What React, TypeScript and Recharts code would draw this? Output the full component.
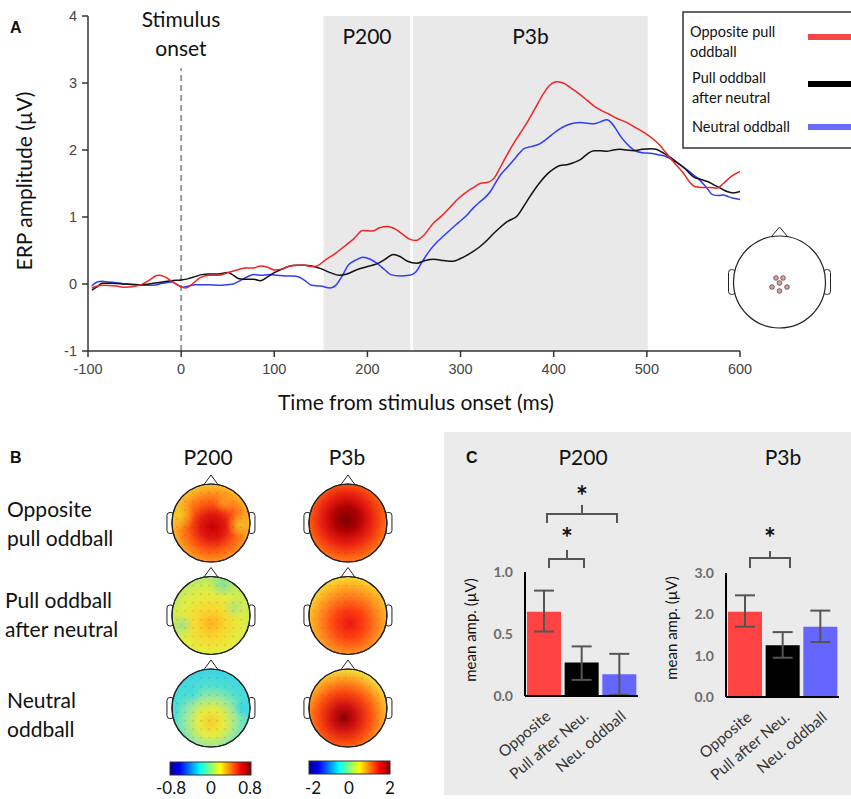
import React from "react";
import {
  LineChart,
  Line,
  XAxis,
  YAxis,
  ReferenceArea,
  ReferenceLine,
  BarChart,
  Bar,
  Cell,
  ErrorBar,
  ScatterChart,
  Scatter,
} from "recharts";

// ---- panel A: grand-average ERP (time ms, amplitude µV) ----
const oppositePull: [number, number][] = [
  [-96, -0.06], [-85, -0.02], [-70, -0.03], [-60, -0.05], [-45, -0.02], [-35, 0.05], [-25, 0.13],
  [-18, 0.11], [-10, 0.04], [-3, -0.02], [5, -0.06], [12, 0.0], [20, 0.09], [30, 0.13], [40, 0.13],
  [50, 0.17], [60, 0.21], [70, 0.24], [78, 0.24], [85, 0.27], [93, 0.25], [100, 0.21], [108, 0.22],
  [115, 0.26], [125, 0.28], [133, 0.28], [140, 0.26], [146, 0.27], [155, 0.36], [165, 0.45],
  [175, 0.56], [185, 0.67], [195, 0.8], [205, 0.79], [213, 0.84], [222, 0.86], [230, 0.82],
  [238, 0.74], [245, 0.67], [252, 0.65], [260, 0.72], [271, 0.91], [280, 1.02], [289, 1.15],
  [298, 1.28], [307, 1.38], [315, 1.45], [321, 1.5], [330, 1.52], [336, 1.58], [343, 1.75],
  [350, 1.93], [357, 2.1], [364, 2.25], [371, 2.4], [380, 2.62], [388, 2.82], [396, 2.97],
  [403, 3.02], [410, 3.0], [421, 2.9], [428, 2.83], [436, 2.74], [443, 2.66], [450, 2.6],
  [460, 2.53], [468, 2.47], [477, 2.42], [486, 2.35], [496, 2.27], [507, 2.16], [514, 2.07],
  [521, 1.95], [530, 1.8], [539, 1.66], [546, 1.52], [552, 1.45], [560, 1.44], [568, 1.44],
  [575, 1.43], [582, 1.5], [590, 1.6], [600, 1.68],
];
const pullAfterNeutral: [number, number][] = [
  [-96, -0.09], [-90, -0.04], [-85, 0.01], [-75, 0.01], [-60, 0.0], [-45, -0.01], [-30, 0.01],
  [-20, 0.03], [-10, 0.05], [0, 0.06], [8, 0.08], [15, 0.11], [22, 0.14], [30, 0.15], [40, 0.15],
  [50, 0.17], [55, 0.14], [62, 0.08], [70, 0.07], [78, 0.07], [85, 0.05], [92, 0.1], [100, 0.17],
  [108, 0.22], [115, 0.26], [125, 0.28], [133, 0.28], [140, 0.27], [150, 0.23], [160, 0.17],
  [170, 0.13], [178, 0.15], [188, 0.21], [200, 0.26], [210, 0.3], [218, 0.36], [228, 0.44],
  [235, 0.41], [243, 0.34], [253, 0.31], [262, 0.35], [271, 0.37], [282, 0.35], [292, 0.34],
  [300, 0.38], [307, 0.43], [314, 0.49], [321, 0.56], [329, 0.66], [336, 0.76], [343, 0.85],
  [350, 0.93], [361, 1.02], [371, 1.23], [379, 1.4], [386, 1.53], [393, 1.64], [400, 1.72],
  [407, 1.77], [414, 1.78], [421, 1.81], [429, 1.86], [436, 1.94], [443, 1.99], [450, 1.99],
  [457, 1.98], [464, 2.0], [471, 2.01], [478, 2.0], [486, 1.99], [495, 2.01], [504, 2.02],
  [510, 2.01], [516, 1.97], [524, 1.9], [532, 1.82], [541, 1.72], [550, 1.6], [558, 1.56],
  [565, 1.53], [572, 1.48], [579, 1.43], [586, 1.38], [593, 1.36], [600, 1.38],
];
const neutralOddball: [number, number][] = [
  [-96, -0.03], [-90, 0.03], [-85, 0.04], [-78, 0.03], [-70, 0.02], [-60, 0.0], [-50, -0.01],
  [-40, -0.02], [-30, -0.02], [-20, 0.01], [-10, 0.03], [-3, -0.02], [2, -0.05], [8, -0.03],
  [15, -0.01], [30, -0.01], [40, -0.02], [50, -0.01], [56, 0.0], [62, 0.04], [70, 0.1], [78, 0.14],
  [86, 0.13], [95, 0.14], [103, 0.13], [112, 0.12], [120, 0.12], [127, 0.1], [134, 0.04],
  [140, -0.02], [150, -0.03], [160, -0.06], [166, -0.02], [172, 0.1], [180, 0.29], [188, 0.36],
  [195, 0.4], [203, 0.37], [210, 0.31], [218, 0.22], [225, 0.14], [235, 0.12], [245, 0.13],
  [252, 0.18], [260, 0.36], [268, 0.52], [275, 0.63], [282, 0.72], [289, 0.81], [298, 0.92],
  [307, 1.03], [314, 1.14], [321, 1.23], [327, 1.3], [332, 1.38], [338, 1.52], [343, 1.63],
  [350, 1.74], [357, 1.85], [363, 1.95], [368, 2.02], [376, 2.05], [386, 2.1], [393, 2.17],
  [400, 2.25], [407, 2.32], [414, 2.37], [421, 2.4], [429, 2.41], [436, 2.4], [443, 2.39],
  [450, 2.42], [457, 2.45], [461, 2.42], [466, 2.33], [472, 2.2], [478, 2.1], [486, 2.0],
  [495, 1.96], [504, 1.95], [512, 1.93], [521, 1.9], [530, 1.83], [539, 1.75], [548, 1.65],
  [557, 1.55], [564, 1.44], [571, 1.33], [577, 1.32], [582, 1.33], [588, 1.3], [593, 1.28],
  [600, 1.26],
];
const timeTicks = [-100, 0, 100, 200, 300, 400, 500, 600];
const ampTicks = [-1, 0, 1, 2, 3, 4];
const windowNames = ["P200", "P3b"];
const windowStart = [153, 249];
const windowEnd = [246, 501];

// ---- panel B: topographies ----
const topoColumns = ["P200", "P3b"];
const topoRows = [
  ["Opposite", "pull oddball"],
  ["Pull oddball", "after neutral"],
  ["Neutral", "oddball"],
];
const p200Scale = ["-0.8", "0", "0.8"];
const p3bScale = ["-2", "0", "2"];

// ---- panel C: mean amplitudes ----
const conditions = ["Opposite", "Pull after Neu.", "Neu. oddball"];
const p200Mean = [0.68, 0.27, 0.175];
const p200Low = [0.52, 0.13, 0.01];
const p200High = [0.85, 0.4, 0.34];
const p200Ticks = [0, 0.5, 1];
const p3bMean = [2.06, 1.25, 1.7];
const p3bLow = [1.7, 0.95, 1.33];
const p3bHigh = [2.46, 1.57, 2.09];
const p3bTicks = [0, 1, 2, 3];

const RED = "#f02424";
const BLACK = "#111111";
const BLUE = "#2f3cff";
const barColors = ["#ff4242", "#000000", "#6565ff"];
const FONT = "Lato, 'Open Sans', sans-serif";
const TICK_FONT = "'Liberation Sans', Arial, sans-serif";

const toPoints = (arr: [number, number][]) => arr.map(([t, v]) => ({ t, v }));

const barRows = (mean: number[], low: number[], high: number[]) =>
  conditions.map((c, i) => ({
    name: c,
    value: mean[i],
    err: [mean[i] - low[i], high[i] - mean[i]],
  }));

// colour ramps for the topography heads (jet-like), plus a few local patches
type Ramp = {
  cx: string;
  cy: string;
  r: string;
  stops: [number, string][];
  patches: [number, number, number, string][];
};
const topoRamps: Record<string, Ramp> = {
  "0-0": {
    cx: "52%", cy: "55%", r: "62%",
    stops: [[0, "#c40000"], [0.25, "#e01810"], [0.5, "#ff5a10"], [0.75, "#ffa020"], [1, "#f0e040"]],
    patches: [[-0.8, -0.2, 0.4, "#f2d82a"], [0.75, 0.05, 0.35, "#f2d82a"], [0.35, -0.55, 0.3, "#ffa824"]],
  },
  "0-1": {
    cx: "50%", cy: "60%", r: "62%",
    stops: [[0, "#ffb020"], [0.3, "#f8d830"], [0.6, "#e6ec40"], [0.85, "#c8ec58"], [1, "#a8e480"]],
    patches: [[0.3, -0.8, 0.35, "#70dcb0"], [-0.75, 0.25, 0.3, "#90dc9c"], [0.6, -0.2, 0.28, "#a0e090"]],
  },
  "0-2": {
    cx: "50%", cy: "68%", r: "65%",
    stops: [[0, "#f8cc30"], [0.25, "#e8ec40"], [0.5, "#98e8a0"], [0.72, "#50e0d0"], [1, "#40d4e4"]],
    patches: [[0.8, 0.0, 0.25, "#30d0f0"], [-0.5, -0.4, 0.3, "#40d8e0"]],
  },
  "1-0": {
    cx: "48%", cy: "45%", r: "62%",
    stops: [[0, "#7a0000"], [0.25, "#b00000"], [0.5, "#e81c10"], [0.78, "#ff6010"], [1, "#ff9a20"]],
    patches: [],
  },
  "1-1": {
    cx: "52%", cy: "60%", r: "62%",
    stops: [[0, "#e81810"], [0.3, "#ff4010"], [0.62, "#ff8c20"], [0.85, "#ffc028"], [1, "#f0e040"]],
    patches: [],
  },
  "1-2": {
    cx: "45%", cy: "62%", r: "62%",
    stops: [[0, "#8c0000"], [0.25, "#d01010"], [0.55, "#ff5010"], [0.8, "#ffa020"], [1, "#f0e040"]],
    patches: [],
  },
};

const topoPoints = topoColumns.flatMap((_, col) =>
  topoRows.map((__, row) => ({ col, row, key: `${col}-${row}` }))
);

const HeadOutline = ({ cx, cy, r, fill }: { cx: number; cy: number; r: number; fill: string }) => (
  <g>
    <path
      d={`M${cx - r * 0.19},${cy - r * 0.97} L${cx},${cy - r - 9} L${cx + r * 0.19},${cy - r * 0.97}`}
      fill="#fff"
      stroke="#222"
      strokeWidth={1}
    />
    <rect x={cx - r - 5} y={cy - r * 0.27} width={7} height={r * 0.54} rx={3} fill="#fff" stroke="#222" strokeWidth={1} />
    <rect x={cx + r - 2} y={cy - r * 0.27} width={7} height={r * 0.54} rx={3} fill="#fff" stroke="#222" strokeWidth={1} />
    <circle cx={cx} cy={cy} r={r} fill={fill} stroke="#222" strokeWidth={1.2} />
  </g>
);

const TopoShape = (props: any) => {
  const { cx, cy, payload } = props;
  const ramp = topoRamps[payload.key];
  const id = `topo-grad-${payload.key}`;
  const r = 39;
  return (
    <g>
      <defs>
        <radialGradient id={id} cx={ramp.cx} cy={ramp.cy} r={ramp.r}>
          {ramp.stops.map(([o, c], i) => (
            <stop key={i} offset={o} stopColor={c} />
          ))}
        </radialGradient>
        {ramp.patches.map(([, , , c], i) => (
          <radialGradient key={i} id={`${id}-p${i}`}>
            <stop offset={0} stopColor={c} stopOpacity={0.75} />
            <stop offset={1} stopColor={c} stopOpacity={0} />
          </radialGradient>
        ))}
        <clipPath id={`clip-${payload.key}`}>
          <circle cx={cx} cy={cy} r={r - 0.5} />
        </clipPath>
        <pattern id={`elec-${payload.key}`} width={8} height={8.5} patternUnits="userSpaceOnUse" x={cx + 2} y={cy}>
          <circle cx={4} cy={4} r={0.55} fill="#222" />
        </pattern>
      </defs>
      <HeadOutline cx={cx} cy={cy} r={r} fill={`url(#${id})`} />
      <g clipPath={`url(#clip-${payload.key})`}>
        {ramp.patches.map(([dx, dy, pr], i) => (
          <circle key={i} cx={cx + dx * r} cy={cy + dy * r} r={pr * r} fill={`url(#${id}-p${i})`} />
        ))}
      </g>
      <circle cx={cx} cy={cy} r={r - 3} fill={`url(#elec-${payload.key})`} opacity={0.45} />
      <circle cx={cx} cy={cy} r={r} fill="none" stroke="#222" strokeWidth={1.2} />
    </g>
  );
};

const SlantTick = (props: any) => {
  const { x, y, payload } = props;
  const ax = x + 8;
  const ay = y + 22;
  return (
    <text
      x={ax}
      y={ay}
      transform={`rotate(-40 ${ax} ${ay})`}
      textAnchor="end"
      fontFamily={FONT}
      fontSize={15.5}
      fill="#333"
    >
      {payload.value}
    </text>
  );
};

const MeanBars = ({
  mean,
  low,
  high,
  ticks,
}: {
  mean: number[];
  low: number[];
  high: number[];
  ticks: number[];
}) => (
  <BarChart
    width={206}
    height={260}
    data={barRows(mean, low, high)}
    margin={{ top: 32, right: 12, left: 41, bottom: 10 }}
    barCategoryGap={2}
  >
    <XAxis
      dataKey="name"
      axisLine={{ stroke: "#000", strokeWidth: 2 }}
      tickLine={false}
      tickSize={0}
      tickMargin={0}
      height={94}
      interval={0}
      tick={<SlantTick />}
    />
    <YAxis
      type="number"
      domain={[ticks[0], ticks[ticks.length - 1]]}
      ticks={ticks}
      width={40}
      axisLine={{ stroke: "#000", strokeWidth: 2 }}
      tickLine={false}
      tickSize={0}
      tickMargin={12}
      tickFormatter={(v: number) => v.toFixed(1)}
      tick={{ fontFamily: FONT, fontSize: 14, fontWeight: 700, fill: "#6b6b6b" }}
    />
    <Bar dataKey="value" isAnimationActive={false}>
      {conditions.map((c, i) => (
        <Cell key={c} fill={barColors[i]} />
      ))}
      <ErrorBar dataKey="err" width={10} stroke="#555" strokeWidth={2} direction="y" />
    </Bar>
  </BarChart>
);

const jetStops: [number, string][] = [
  [0, "#00008f"],
  [0.12, "#0000ff"],
  [0.37, "#00ffff"],
  [0.62, "#ffff00"],
  [0.87, "#ff0000"],
  [1, "#800000"],
];

export default function App() {
  const axisStroke = { stroke: "#333", strokeWidth: 1.5 };
  return (
    <div
      style={{
        position: "absolute",
        left: 0,
        top: 0,
        width: 851,
        height: 799,
        background: "#fff",
        overflow: "hidden",
        fontFamily: FONT,
      }}
    >
      {/* panel C background */}
      <div style={{ position: "absolute", left: 444, top: 432, width: 407, height: 363, background: "#ebebeb" }} />

      {/* panel A */}
      <div style={{ position: "absolute", left: 0, top: 0 }}>
        <LineChart width={760} height={420} margin={{ top: 16, right: 20, left: 48, bottom: 39 }}>
          {windowNames.map((n, i) => (
            <ReferenceArea
              key={n}
              x1={windowStart[i]}
              x2={windowEnd[i]}
              y1={-1}
              y2={4}
              fill="#e9e9e9"
              fillOpacity={1}
              stroke="none"
              label={{ value: n, position: "insideTop", offset: 13, fontSize: 21, fill: "#111", fontFamily: FONT }}
            />
          ))}
          <XAxis
            type="number"
            dataKey="t"
            domain={[-100, 600]}
            ticks={timeTicks}
            allowDataOverflow
            axisLine={axisStroke}
            tickLine={axisStroke}
            tickSize={6}
            tickMargin={7}
            height={30}
            tick={{ fontFamily: TICK_FONT, fontSize: 14.5, fill: "#444" }}
          />
          <YAxis
            type="number"
            domain={[-1, 4]}
            ticks={ampTicks}
            width={40}
            axisLine={axisStroke}
            tickLine={axisStroke}
            tickSize={6}
            tickMargin={5}
            tick={{ fontFamily: TICK_FONT, fontSize: 14.5, fill: "#444" }}
          />
          <ReferenceLine
            segment={[
              { x: 0, y: -1 },
              { x: 0, y: 3.22 },
            ]}
            stroke="#9a9a9a"
            strokeWidth={2}
            strokeDasharray="6 4"
          />
          <Line data={toPoints(neutralOddball)} dataKey="v" type="monotone" stroke={BLUE} strokeWidth={1.5} dot={false} isAnimationActive={false} />
          <Line data={toPoints(pullAfterNeutral)} dataKey="v" type="monotone" stroke={BLACK} strokeWidth={1.5} dot={false} isAnimationActive={false} />
          <Line data={toPoints(oppositePull)} dataKey="v" type="monotone" stroke={RED} strokeWidth={1.5} dot={false} isAnimationActive={false} />
        </LineChart>
      </div>

      {/* panel B topographies */}
      <div style={{ position: "absolute", left: 150, top: 430 }}>
        <ScatterChart width={260} height={330} margin={{ top: 0, right: 0, left: 0, bottom: 0 }}>
          <XAxis type="number" dataKey="col" hide domain={[-0.445, 1.453]} />
          <YAxis type="number" dataKey="row" hide reversed domain={[-1.005, 2.562]} width={0} />
          <Scatter data={topoPoints} shape={<TopoShape />} isAnimationActive={false} />
        </ScatterChart>
      </div>

      {/* panel C bars */}
      <div style={{ position: "absolute", left: 444, top: 540 }}>
        <MeanBars mean={p200Mean} low={p200Low} high={p200High} ticks={p200Ticks} />
      </div>
      <div style={{ position: "absolute", left: 645, top: 541 }}>
        <MeanBars mean={p3bMean} low={p3bLow} high={p3bHigh} ticks={p3bTicks} />
      </div>

      {/* annotations */}
      <svg width={851} height={799} style={{ position: "absolute", left: 0, top: 0, pointerEvents: "none" }}>
        <defs>
          <linearGradient id="jet" x1="0" x2="1" y1="0" y2="0">
            {jetStops.map(([o, c], i) => (
              <stop key={i} offset={o} stopColor={c} />
            ))}
          </linearGradient>
        </defs>

        {/* A */}
        <text x={10} y={33} fontFamily={TICK_FONT} fontWeight={700} fontSize={16} fill="#111">A</text>
        <text x={181} y={27} textAnchor="middle" fontSize={21} fill="#111">Stimulus</text>
        <text x={181} y={56} textAnchor="middle" fontSize={21} fill="#111">onset</text>
        <text x={416} y={410} textAnchor="middle" fontSize={21} fill="#111">Time from stimulus onset (ms)</text>
        <text x={32} y={181} textAnchor="middle" fontSize={21} fill="#111" transform="rotate(-90 32 181)">
          ERP amplitude (µV)
        </text>

        {/* legend */}
        <rect x={683} y={12} width={190} height={136} fill="#fff" stroke="#333" strokeWidth={1.5} />
        <text x={690} y={37} fontSize={14.5} fill="#111">Opposite pull</text>
        <text x={690} y={57} fontSize={14.5} fill="#111">oddball</text>
        <text x={692} y={83} fontSize={14.5} fill="#111">Pull oddball</text>
        <text x={692} y={103} fontSize={14.5} fill="#111">after neutral</text>
        <text x={692} y={132} fontSize={14.5} fill="#111">Neutral oddball</text>
        <line x1={808} x2={851} y1={37} y2={37} stroke="#f54747" strokeWidth={6} />
        <line x1={808} x2={851} y1={84} y2={84} stroke="#000" strokeWidth={6} />
        <line x1={808} x2={851} y1={127} y2={127} stroke="#6a6aff" strokeWidth={6} />

        {/* electrode head */}
        <HeadOutline cx={779.5} cy={282} r={46} fill="#fff" />
        {[
          [776, 278], [783, 278], [779.5, 283], [772, 287], [787, 287], [779.5, 291],
        ].map(([x, y], i) => (
          <circle key={i} cx={x} cy={y} r={2.3} fill="#eaa0a0" stroke="#444" strokeWidth={0.8} />
        ))}

        {/* B */}
        <text x={10} y={463} fontFamily={TICK_FONT} fontWeight={700} fontSize={16} fill="#111">B</text>
        <text x={208} y={465} textAnchor="middle" fontSize={21} fill="#111">{topoColumns[0]}</text>
        <text x={347} y={465} textAnchor="middle" fontSize={21} fill="#111">{topoColumns[1]}</text>
        {topoRows.map((lines, i) =>
          lines.map((s, j) => (
            <text
              key={`${i}-${j}`}
              x={i === 1 ? 5 : 7}
              y={[517, 608, 708][i] + j * 29}
              fontSize={21}
              fill="#111"
            >
              {s}
            </text>
          ))
        )}
        <rect x={170} y={762} width={81} height={13} fill="url(#jet)" stroke="#333" strokeWidth={1} />
        <rect x={309} y={761} width={81} height={13} fill="url(#jet)" stroke="#333" strokeWidth={1} />
        {p200Scale.map((s, i) => (
          <text key={s} x={[171, 211, 250][i]} y={794} textAnchor="middle" fontSize={17} fill="#111">{s}</text>
        ))}
        {p3bScale.map((s, i) => (
          <text key={s} x={[313, 349, 390][i]} y={794} textAnchor="middle" fontSize={17} fill="#111">{s}</text>
        ))}

        {/* C */}
        <text x={466} y={463} fontFamily={TICK_FONT} fontWeight={700} fontSize={16} fill="#111">C</text>
        <text x={583} y={465} textAnchor="middle" fontSize={21} fill="#111">P200</text>
        <text x={783} y={465} textAnchor="middle" fontSize={21} fill="#111">P3b</text>
        <text x={476} y={630} textAnchor="middle" fontSize={15} fill="#111" transform="rotate(-90 476 630)">mean amp. (µV)</text>
        <text x={677} y={628} textAnchor="middle" fontSize={15} fill="#111" transform="rotate(-90 677 628)">mean amp. (µV)</text>
        <g stroke="#555" strokeWidth={2} fill="none">
          <path d="M547,523 V514 H617 V523 M582,514 V505" />
          <path d="M549,568 V559 H584 V568 M567,559 V550" />
          <path d="M750,568 V558 H790 V568 M770,558 V551" />
        </g>
        <text x={582} y={506} textAnchor="middle" fontSize={28} fontWeight={700} fill="#111">*</text>
        <text x={567} y={548} textAnchor="middle" fontSize={28} fontWeight={700} fill="#111">*</text>
        <text x={770} y={548} textAnchor="middle" fontSize={28} fontWeight={700} fill="#111">*</text>
      </svg>
    </div>
  );
}
